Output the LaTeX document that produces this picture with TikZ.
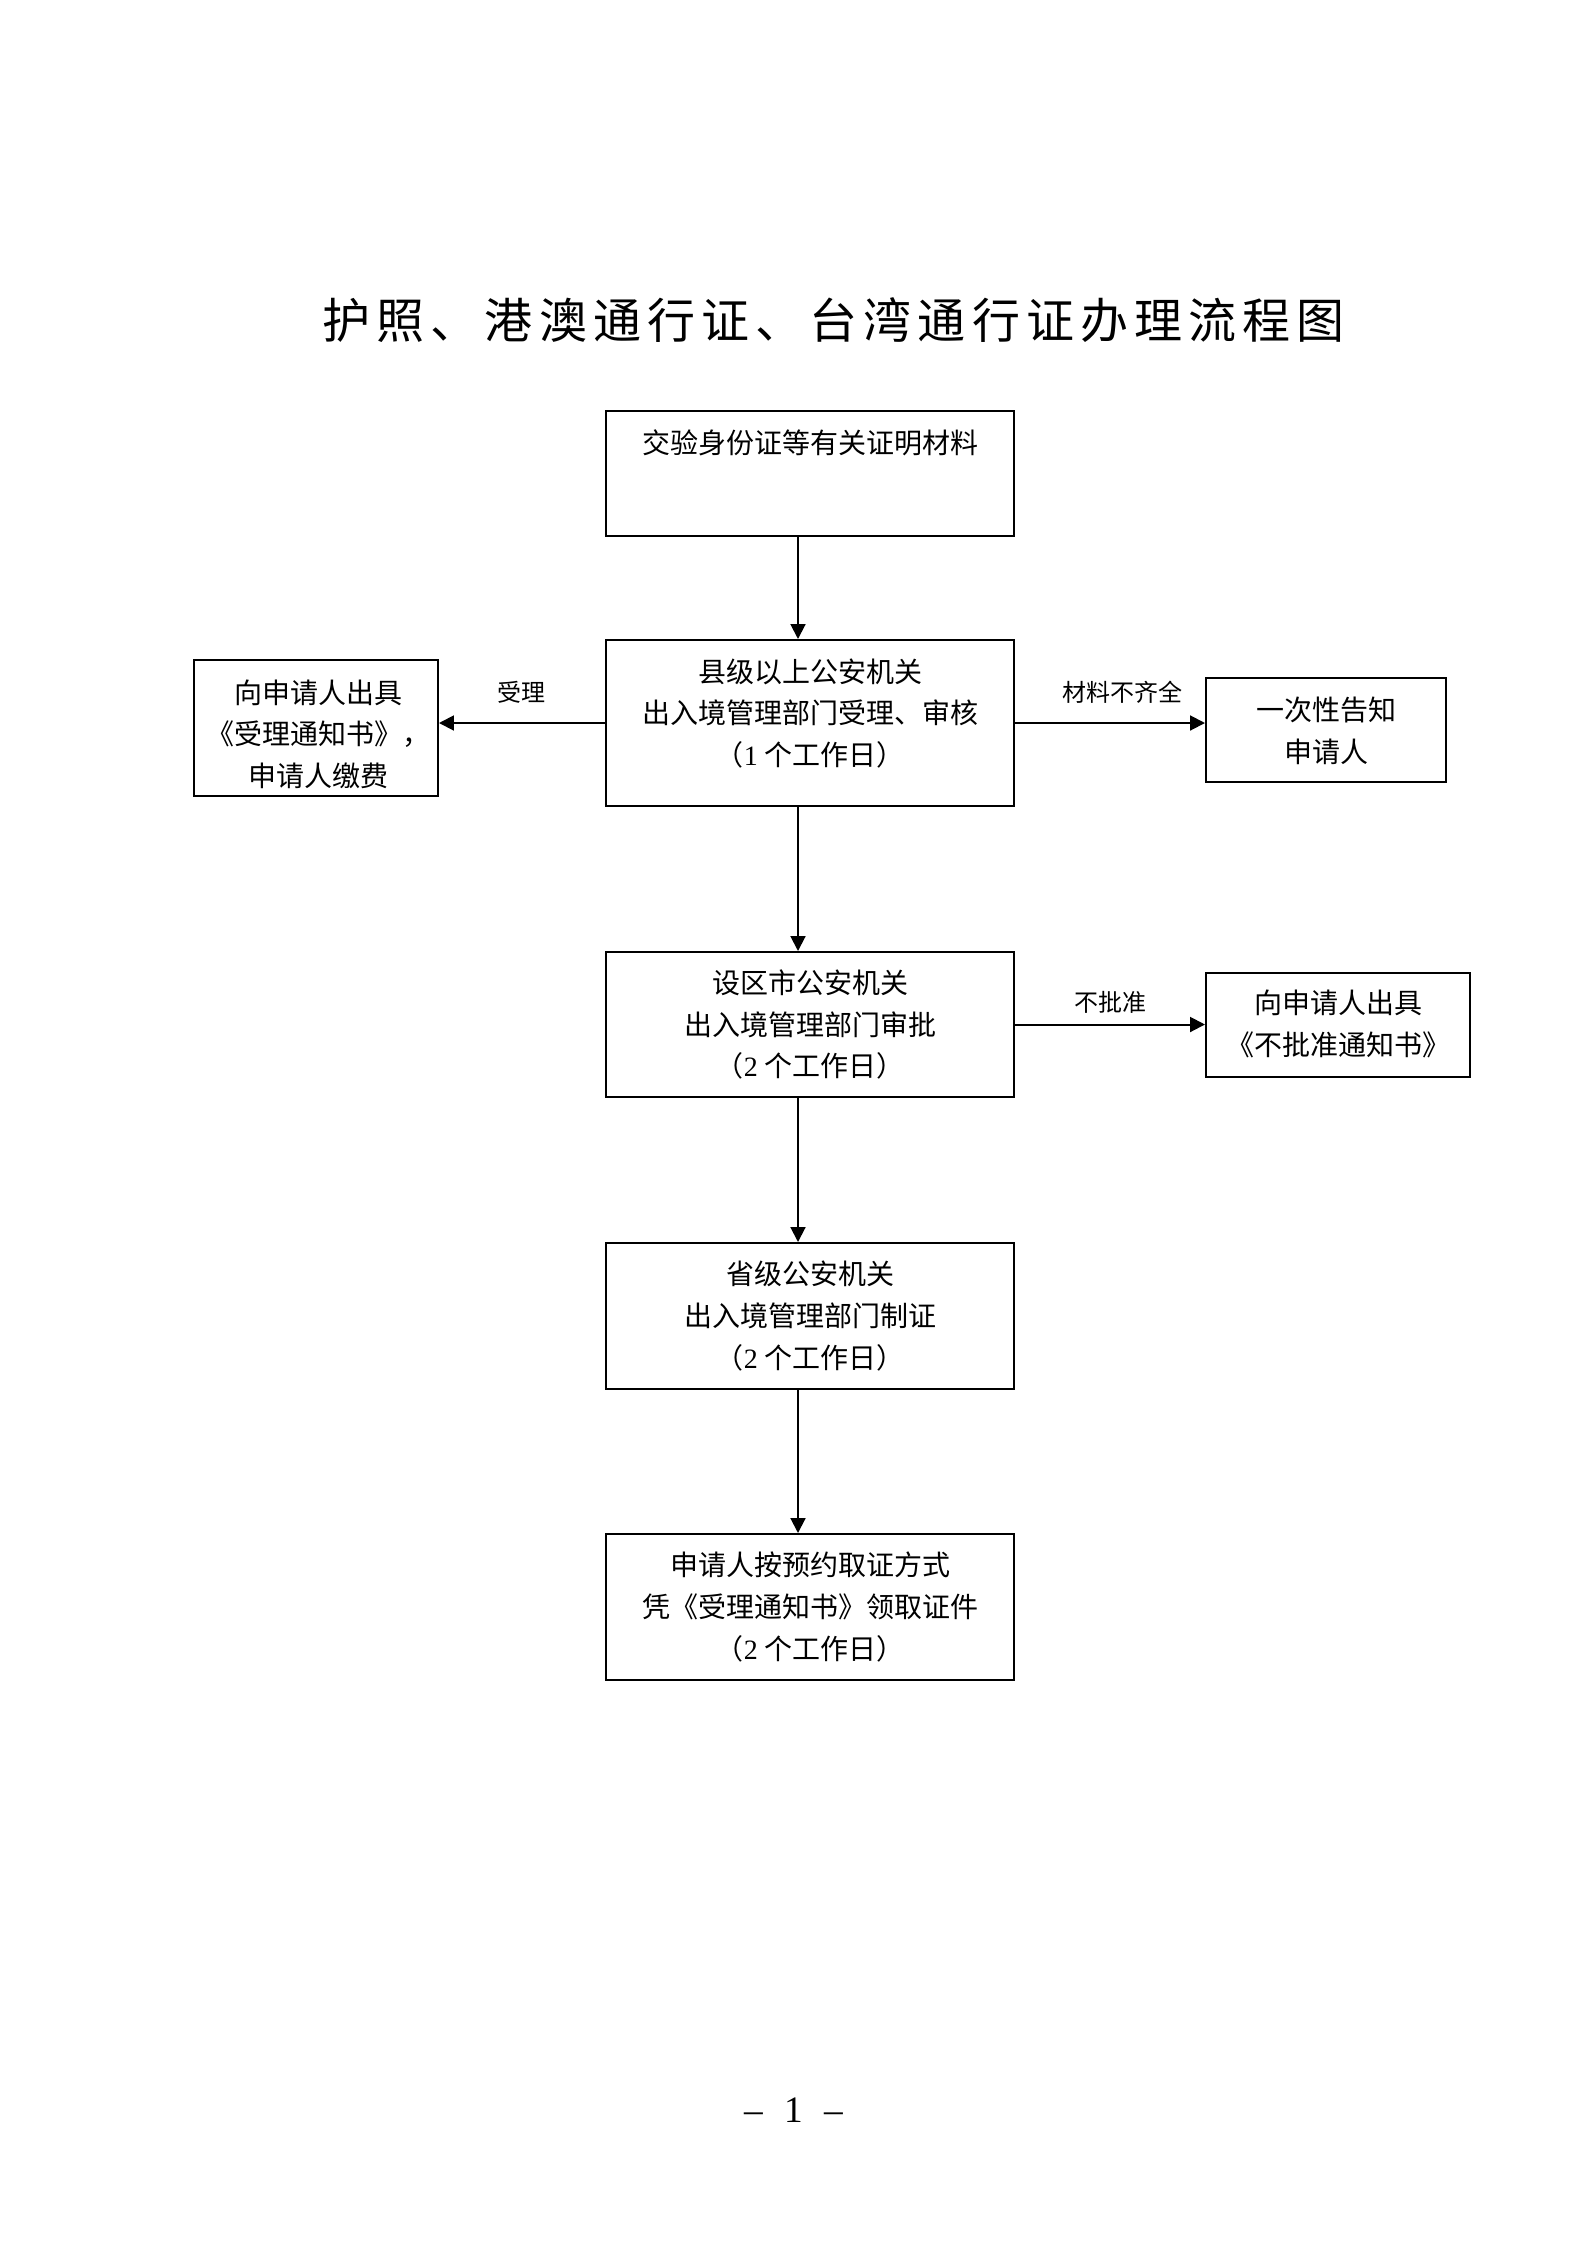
\documentclass[tikz,border=0pt]{standalone}
\usepackage{fontspec}
\setmainfont{Liberation Serif}
\newfontfamily\cjk{Noto Sans CJK SC}
\newfontfamily\tnr{Liberation Serif}
\usetikzlibrary{arrows.meta}
\newcommand\pxu{0.375pt}
\newcommand\tk{\kern2.3pt}
\tikzset{
  box/.style={draw, line width=0.75pt, inner sep=0pt},
  txt/.style={font=\cjk\fontsize{10.5pt}{15.6pt}\selectfont, align=center, inner sep=0pt},
  lbl/.style={font=\cjk\fontsize{9pt}{11pt}\selectfont, inner sep=0pt},
  arr/.style={-{Triangle[length=5.6pt,width=5.6pt]}, line width=0.75pt},
}
\begin{document}
\begin{tikzpicture}[x=0.375pt, y=-0.375pt]
\useasboundingbox[fill=white] (0,0) rectangle (1587,2245);

% title
\node[anchor=west, inner sep=0pt, font=\cjk\fontsize{18pt}{22pt}\selectfont] (title) at (322,320)
  {护\tk 照\tk 、\tk 港\tk 澳\tk 通\tk 行\tk 证\tk 、\tk 台\tk 湾\tk 通\tk 行\tk 证\tk 办\tk 理\tk 流\tk 程\tk 图};

% boxes
\node[box, minimum width=408*\pxu, minimum height=125*\pxu] (b1) at (810,473.5) {};
\node[box, minimum width=408*\pxu, minimum height=166*\pxu] (b2) at (810,723) {};
\node[box, minimum width=408*\pxu, minimum height=145*\pxu] (b3) at (810,1024.5) {};
\node[box, minimum width=408*\pxu, minimum height=145.5*\pxu] (b4) at (810,1315.75) {};
\node[box, minimum width=408*\pxu, minimum height=145.5*\pxu] (b5) at (810,1606.75) {};
\node[box, minimum width=244*\pxu, minimum height=136*\pxu] (lb) at (316,728) {};
\node[box, minimum width=240*\pxu, minimum height=104*\pxu] (rb1) at (1326,730) {};
\node[box, minimum width=264*\pxu, minimum height=104*\pxu] (rb2) at (1338,1025) {};

% box texts
\node[txt] (t1) at (810,443) {交验身份证等有关证明材料};
\node[txt] (t2) at (810,713.5) {县级以上公安机关\\出入境管理部门受理、审核\\（{\tnr 1} 个工作日）};
\node[txt] (t3) at (810,1024.5) {设区市公安机关\\出入境管理部门审批\\（{\tnr 2} 个工作日）};
\node[txt] (t4) at (810,1316) {省级公安机关\\出入境管理部门制证\\（{\tnr 2} 个工作日）};
\node[txt] (t5) at (810,1607) {申请人按预约取证方式\\凭《受理通知书》领取证件\\（{\tnr 2} 个工作日）};
\node[txt] (tl) at (318,734) {向申请人出具\\《受理通知书》，\\申请人缴费};
\node[txt] (tr1) at (1326,731) {一次性告知\\申请人};
\node[txt] (tr2) at (1338,1024) {向申请人出具\\《不批准通知书》};

% connectors
\coordinate (ax) at (798,0);
\draw[arr] (b1.south -| ax) -- (b2.north -| ax);
\draw[arr] (b2.south -| ax) -- (b3.north -| ax);
\draw[arr] (b3.south -| ax) -- (b4.north -| ax);
\draw[arr] (b4.south -| ax) -- (b5.north -| ax);
\draw[arr] (b2.west) -- (b2.west -| lb.east);
\draw[arr] (b2.east) -- (b2.east -| rb1.west);
\draw[arr] (b3.east) -- (b3.east -| rb2.west);

% connector labels
\node[lbl] (l1) at (521.5,692) {受理};
\node[lbl] (l2) at (1122,692) {材料不齐全};
\node[lbl] (l3) at (1110,1002) {不批准};

% page number
\node[anchor=base, inner sep=0pt, font=\tnr\fontsize{14pt}{16pt}\selectfont] (pg) at (793.5,2122)
  {–\hspace{8pt}1\hspace{8pt}–};
\end{tikzpicture}
\end{document}
